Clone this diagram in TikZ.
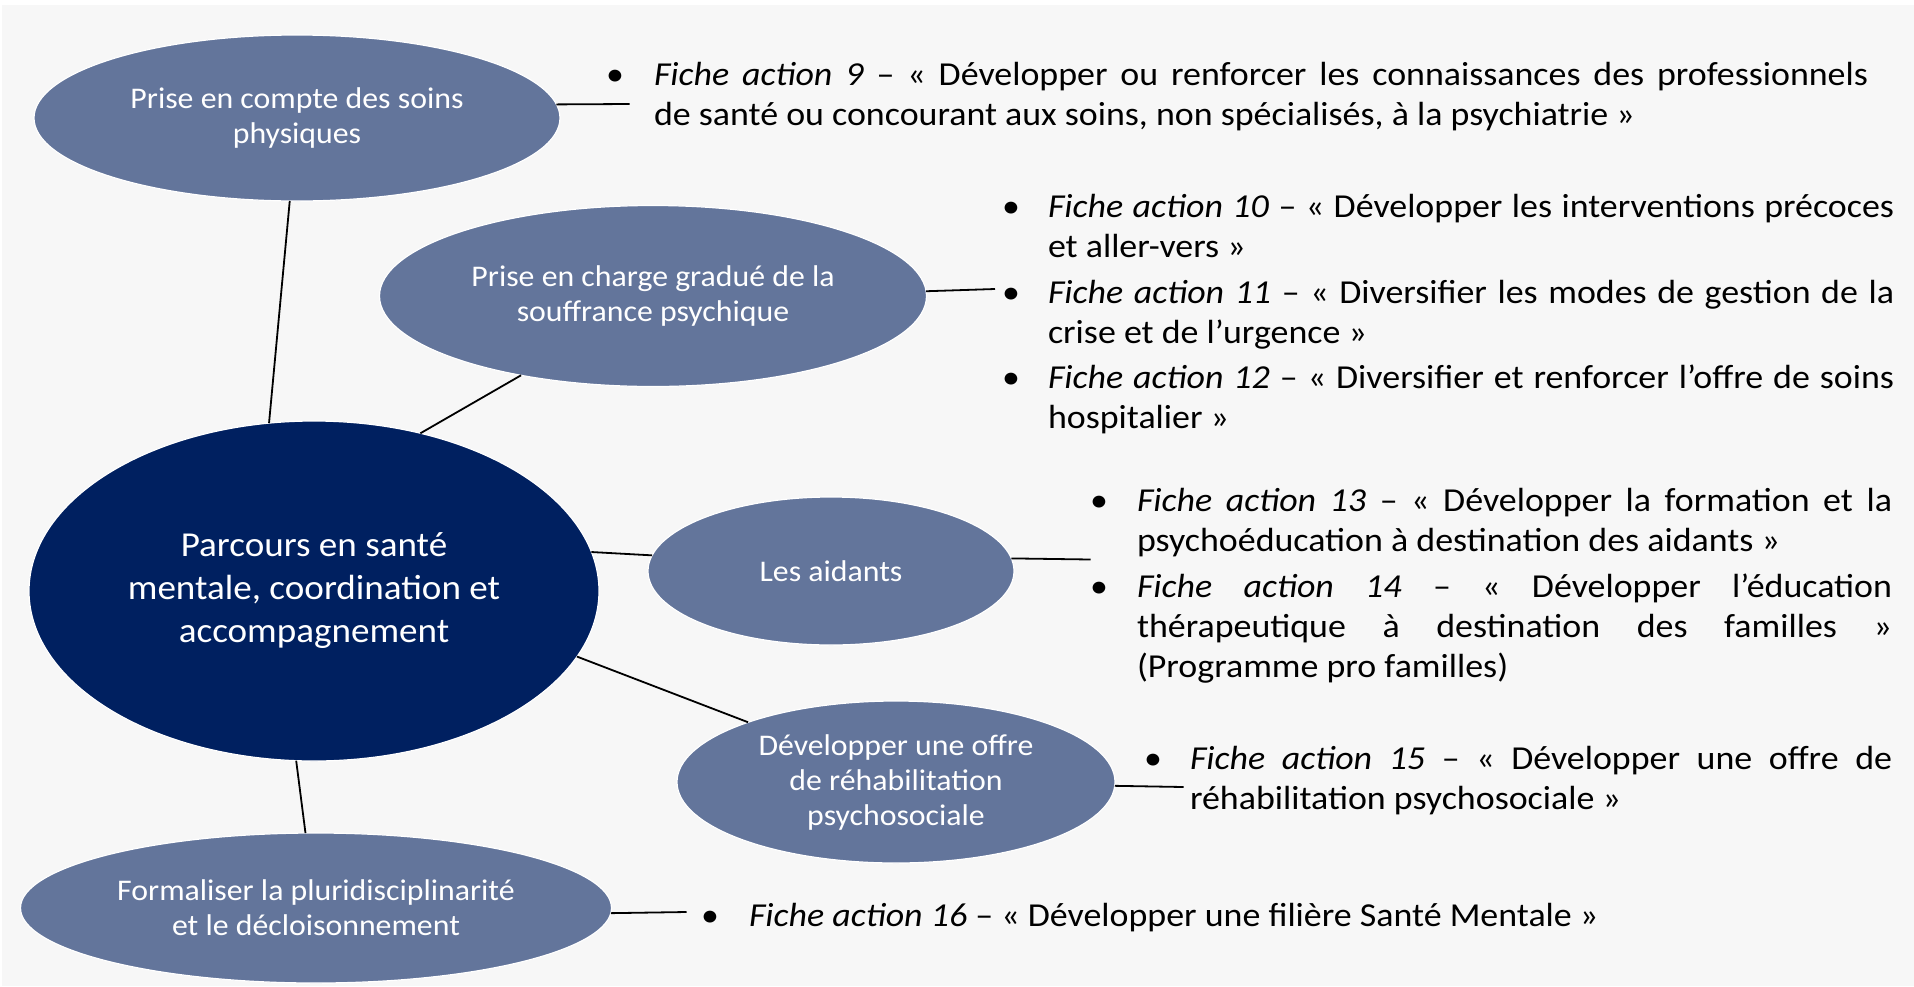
\documentclass[tikz,border=0pt]{standalone}
\usepackage{fontspec}
\setmainfont{Carlito}[FakeStretch=1.06]
\newfontfamily\bodyfont{Carlito}[FakeStretch=1.072]
\usetikzlibrary{shapes.geometric}
\definecolor{bubblefill}{RGB}{99,117,155}
\definecolor{corefill}{RGB}{0,32,96}
\definecolor{bgfill}{RGB}{247,247,247}
\tikzset{
  bubble/.style={ellipse, fill=bubblefill, draw=white, line width=1.2pt, inner sep=0pt, outer sep=0pt,
    text=white, align=center, font=\fontsize{30}{35}\selectfont},
  link/.style={line width=1.8pt, draw=black},
  item/.style={anchor=base west, inner sep=0pt, outer sep=0pt, align=justify, font=\bodyfont\fontsize{33.5}{40}\selectfont},
  dot/.style={anchor=base, inner sep=0pt, font=\bodyfont\fontsize{33.5}{40}\selectfont}
}
\begin{document}
\begin{tikzpicture}[x=1pt,y=-1pt]
\useasboundingbox (0,0) rectangle (1914,986);
\fill[white] (0,0) rectangle (1914,986);
\fill[bgfill] (1.5,5) rectangle (1914,986);

% bubbles
\node[bubble, minimum width=526pt, minimum height=166pt] (soins) at (297,118) {Prise en compte des soins\\physiques};
\node[bubble, minimum width=547pt, minimum height=181pt] (gradue) at (653,296) {Prise en charge gradué de la\\souffrance psychique};
\node[bubble, fill=corefill, minimum width=570pt, minimum height=340pt, font=\fontsize{35}{43}\selectfont] (parcours) at (314,591) {Parcours en santé\\mentale, coordination et\\accompagnement};
\node[bubble, minimum width=366pt, minimum height=148pt] (aidants) at (831,571) {Les aidants};
\node[bubble, minimum width=438pt, minimum height=162pt] (rehab) at (896,782) {Développer une offre\\de réhabilitation\\psychosociale};
\node[bubble, minimum width=591pt, minimum height=150pt] (formal) at (316,908) {Formaliser la pluridisciplinarité\\et le décloisonnement};

% bullet texts
\node[dot] (b9) at (615,85) {•};
\node[item, text width=1214pt] (f9) at (654,85) {\textit{Fiche action 9} – « Développer ou renforcer les connaissances des professionnels\linebreak de santé ou concourant aux soins, non spécialisés, à la psychiatrie »};

\node[dot] (b10) at (1011,217) {•};
\node[item, text width=846pt] (f10) at (1048,217) {\textit{Fiche action 10} – « Développer les interventions précoces\linebreak et aller-vers »};
\node[dot] (b11) at (1011,303) {•};
\node[item, text width=846pt] (f11) at (1048,303) {\textit{Fiche action 11} – « Diversifier les modes de gestion de la\linebreak crise et de l’urgence »};
\node[dot] (b12) at (1011,388) {•};
\node[item, text width=846pt] (f12) at (1048,388) {\textit{Fiche action 12} – « Diversifier et renforcer l’offre de soins\linebreak hospitalier »};

\node[dot] (b13) at (1099,511) {•};
\node[item, text width=755pt] (f13) at (1137,511) {\textit{Fiche action 13} – « Développer la formation et la\linebreak psychoéducation à destination des aidants »};
\node[dot] (b14) at (1099,597) {•};
\node[item, text width=755pt] (f14) at (1137,597) {\textit{Fiche action 14} – « Développer l’éducation\linebreak thérapeutique à destination des familles »\linebreak (Programme pro familles)};

\node[dot] (b15) at (1153,769) {•};
\node[item, text width=702pt] (f15) at (1190,769) {\textit{Fiche action 15} – « Développer une offre de\linebreak réhabilitation psychosociale »};

\node[dot] (b16) at (710,926) {•};
\node[item] (f16) at (749,926) {\textit{Fiche action 16} – « Développer une filière Santé Mentale »};

% free ends of side connectors
\coordinate (c9) at (629.5,104);
\coordinate (c11) at (995,289);
\coordinate (c13) at (1090.5,559.5);
\coordinate (c15) at (1183.5,787);
\coordinate (c16) at (686.5,912);

% connectors
\draw[link] (soins.265) -- (parcours.105);
\draw[link] (gradue.211) -- (parcours.56);
\draw[link] (parcours.8) -- (aidants.175);
\draw[link] (parcours.346) -- (rehab.158);
\draw[link] (parcours.264) -- (formal.98);
\draw[link] (soins.3) -- (c9);
\draw[link] (gradue.1) -- (c11);
\draw[link] (aidants.4) -- (c13);
\draw[link] (rehab.359) -- (c15);
\draw[link] (formal.359) -- (c16);
\end{tikzpicture}
\end{document}
